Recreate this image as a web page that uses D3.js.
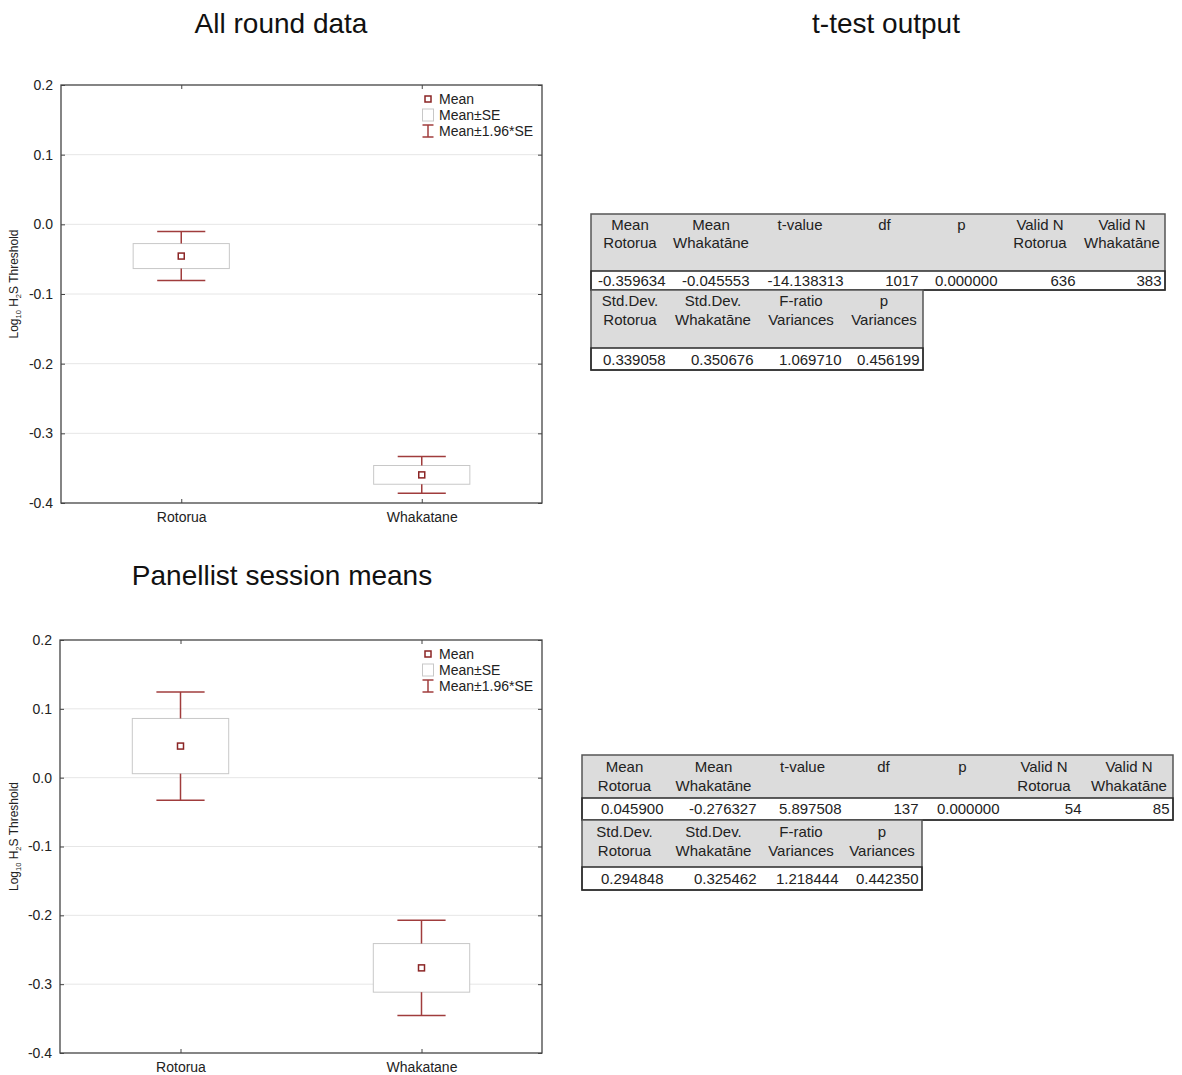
<!DOCTYPE html>
<html>
<head>
<meta charset="utf-8">
<script src="https://cdn.jsdelivr.net/npm/d3@7"></script>
<style>
  body { margin: 0; background: #fff; }
  svg { display: block; font-family: "Liberation Sans", Arial, Helvetica, sans-serif; }
</style>
</head>
<body>
<svg id="fig" width="1182" height="1075"></svg>
<script>
// ---- data ----
const categories = ["Rotorua", "Whakatane"];
const yTickValues = [0.2, 0.1, 0.0, -0.1, -0.2, -0.3, -0.4];
const allRoundMeans = [-0.045553, -0.359634];
const allRoundSE = [0.01792, 0.01344];
const sessionMeans = [0.045900, -0.276327];
const sessionSE = [0.04012, 0.03530];
const legendLabels = ["Mean", "Mean±SE", "Mean±1.96*SE"];

const ttestHeaders = [["Mean", "Rotorua"], ["Mean", "Whakatāne"], ["t-value", ""], ["df", ""], ["p", ""], ["Valid N", "Rotorua"], ["Valid N", "Whakatāne"]];
const ttestAllRow = ["-0.359634", "-0.045553", "-14.138313", "1017", "0.000000", "636", "383"];
const ttestSessionRow = ["0.045900", "-0.276327", "5.897508", "137", "0.000000", "54", "85"];
const varianceHeaders = [["Std.Dev.", "Rotorua"], ["Std.Dev.", "Whakatāne"], ["F-ratio", "Variances"], ["p", "Variances"]];
const varianceAllRow = ["0.339058", "0.350676", "1.069710", "0.456199"];
const varianceSessionRow = ["0.294848", "0.325462", "1.218444", "0.442350"];

// ---- styling ----
const ink = "#222";
const whiskerColor = "#a03c3c";
const meanColor = "#8b2525";
const boxColor = "#c8c8c8";
const gridColor = "#e6e6e6";
const frameColor = "#444";
const headerFill = "#dcdcdc";

const svg = d3.select("#fig");
const fmt = d => d3.format(".1f")(d).replace("\u2212", "-");

function titleText(x, y, s) {
  svg.append("text").attr("x", x).attr("y", y).attr("text-anchor", "middle")
    .attr("font-size", 28).attr("fill", "#111").text(s);
}

titleText(281, 33, "All round data");
titleText(886, 33, "t-test output");
titleText(282, 585, "Panellist session means");

// ---- mean / SE plot ----
function drawMeanPlot(frame, means, se) {
  const g = svg.append("g");
  const x = d3.scalePoint().domain(categories).range([frame.x0, frame.x1]).padding(0.5);
  const y = d3.scaleLinear().domain([-0.4, 0.2]).range([frame.y1, frame.y0]);
  const w = frame.x1 - frame.x0;
  const boxW = w * 0.2, capW = w * 0.1;

  // gridlines
  g.append("g").selectAll("line")
    .data(yTickValues.filter(v => v < 0.2 && v > -0.4))
    .join("line")
    .attr("x1", frame.x0).attr("x2", frame.x1)
    .attr("y1", d => y(d)).attr("y2", d => y(d))
    .attr("stroke", gridColor).attr("stroke-width", 1);

  const rows = categories.map((c, i) => ({ c, m: means[i], s: se[i] }));

  // Mean±SE boxes
  g.append("g").selectAll("rect").data(rows).join("rect")
    .attr("x", d => x(d.c) - boxW / 2).attr("width", boxW)
    .attr("y", d => y(d.m + d.s)).attr("height", d => y(d.m - d.s) - y(d.m + d.s))
    .attr("fill", "#fff").attr("stroke", boxColor).attr("stroke-width", 1);

  // Mean±1.96*SE whiskers
  const wg = g.append("g").attr("stroke", whiskerColor).attr("stroke-width", 1.5);
  rows.forEach(d => {
    const hi = d.m + 1.96 * d.s, lo = d.m - 1.96 * d.s;
    const cx = x(d.c);
    wg.append("line").attr("x1", cx).attr("x2", cx).attr("y1", y(hi)).attr("y2", y(d.m + d.s));
    wg.append("line").attr("x1", cx).attr("x2", cx).attr("y1", y(d.m - d.s)).attr("y2", y(lo));
    wg.append("line").attr("x1", cx - capW / 2).attr("x2", cx + capW / 2).attr("y1", y(hi)).attr("y2", y(hi));
    wg.append("line").attr("x1", cx - capW / 2).attr("x2", cx + capW / 2).attr("y1", y(lo)).attr("y2", y(lo));
  });

  // means
  g.append("g").selectAll("rect").data(rows).join("rect")
    .attr("x", d => x(d.c) - 3).attr("y", d => y(d.m) - 3)
    .attr("width", 6).attr("height", 6)
    .attr("fill", "#fff").attr("stroke", meanColor).attr("stroke-width", 1.5);

  // frame
  g.append("rect").attr("x", frame.x0).attr("y", frame.y0)
    .attr("width", w).attr("height", frame.y1 - frame.y0)
    .attr("fill", "none").attr("stroke", frameColor).attr("stroke-width", 1.3);

  // axes
  const styleAxis = sel => {
    sel.select(".domain").remove();
    sel.selectAll(".tick line").attr("stroke", frameColor);
    sel.selectAll("text").attr("fill", ink).attr("font-size", 14)
      .attr("font-family", "Liberation Sans, Arial, sans-serif");
  };
  g.append("g").attr("transform", `translate(${frame.x0},0)`)
    .call(d3.axisLeft(y).tickValues(yTickValues).tickFormat(fmt).tickSizeInner(-4).tickSizeOuter(0).tickPadding(8))
    .call(styleAxis);
  g.append("g").attr("transform", `translate(${frame.x1},0)`)
    .call(d3.axisRight(y).tickValues(yTickValues).tickFormat("").tickSizeInner(-4).tickSizeOuter(0))
    .call(styleAxis);
  g.append("g").attr("transform", `translate(0,${frame.y0})`)
    .call(d3.axisTop(x).tickFormat("").tickSizeInner(-4).tickSizeOuter(0))
    .call(styleAxis);
  g.append("g").attr("transform", `translate(0,${frame.y1})`)
    .call(d3.axisBottom(x).tickSizeInner(-4).tickSizeOuter(0).tickPadding(9))
    .call(styleAxis);

  // y-axis title with subscripts
  const cy = (frame.y0 + frame.y1) / 2 - 10;
  const t = g.append("text").attr("transform", `translate(18,${cy}) rotate(-90)`)
    .attr("text-anchor", "middle").attr("font-size", 12).attr("fill", ink);
  t.append("tspan").text("Log");
  t.append("tspan").attr("font-size", 7.5).attr("dy", 3).text("10");
  t.append("tspan").attr("dy", -3).text(" H");
  t.append("tspan").attr("font-size", 7.5).attr("dy", 3).text("2");
  t.append("tspan").attr("dy", -3).text("S Threshold");

  // legend
  const lx = frame.x1 - 114, tx = frame.x1 - 103;
  const ly = [frame.y0 + 14, frame.y0 + 30, frame.y0 + 46];
  const lg = g.append("g");
  lg.append("rect").attr("x", lx - 3).attr("y", ly[0] - 3).attr("width", 6).attr("height", 6)
    .attr("fill", "#fff").attr("stroke", meanColor).attr("stroke-width", 1.5);
  lg.append("rect").attr("x", lx - 5.5).attr("y", ly[1] - 6).attr("width", 11).attr("height", 12)
    .attr("fill", "#fff").attr("stroke", boxColor).attr("stroke-width", 1);
  const ib = lg.append("g").attr("stroke", whiskerColor).attr("stroke-width", 1.5);
  ib.append("line").attr("x1", lx).attr("x2", lx).attr("y1", ly[2] - 6).attr("y2", ly[2] + 6);
  ib.append("line").attr("x1", lx - 5.5).attr("x2", lx + 5.5).attr("y1", ly[2] - 6).attr("y2", ly[2] - 6);
  ib.append("line").attr("x1", lx - 5.5).attr("x2", lx + 5.5).attr("y1", ly[2] + 6).attr("y2", ly[2] + 6);
  lg.selectAll("text").data(legendLabels).join("text")
    .attr("x", tx).attr("y", (d, i) => ly[i]).attr("dy", "0.35em")
    .attr("font-size", 14).attr("fill", ink).text(d => d);
}

drawMeanPlot({ x0: 61, x1: 542, y0: 85, y1: 503 }, allRoundMeans, allRoundSE);
drawMeanPlot({ x0: 60, x1: 542, y0: 640, y1: 1053 }, sessionMeans, sessionSE);

// ---- statistics tables ----
function drawTableBlock(cols, head, data, headers, values) {
  const g = svg.append("g").attr("font-size", 15).attr("fill", ink);
  const x0 = cols[0], x1 = cols[cols.length - 1];
  g.append("rect").attr("x", x0).attr("y", head.top).attr("width", x1 - x0)
    .attr("height", head.bottom - head.top).attr("fill", headerFill);
  g.append("rect").attr("x", x0).attr("y", data.top).attr("width", x1 - x0)
    .attr("height", data.bottom - data.top).attr("fill", "#fff");
  headers.forEach((h, i) => {
    const cx = (cols[i] + cols[i + 1]) / 2;
    h.forEach((line, k) => {
      if (line) g.append("text").attr("x", cx).attr("y", head.lines[k])
        .attr("text-anchor", "middle").text(line);
    });
  });
  values.forEach((v, i) => {
    g.append("text").attr("x", cols[i + 1] - 3.5).attr("y", data.base)
      .attr("text-anchor", "end").text(v);
  });
  // borders
  const b = g.append("g").attr("stroke", "#2a2a2a").attr("stroke-width", 1.5).attr("fill", "none");
  b.append("rect").attr("x", x0).attr("y", head.top).attr("width", x1 - x0)
    .attr("height", data.bottom - head.top).attr("stroke", "#555");
  b.append("rect").attr("x", x0).attr("y", data.top).attr("width", x1 - x0)
    .attr("height", data.bottom - data.top);
}

// all round data tables
drawTableBlock([591, 669, 753, 847, 922, 1001, 1079, 1165],
  { top: 214, bottom: 271, lines: [230, 248] },
  { top: 271, bottom: 290, base: 286 },
  ttestHeaders, ttestAllRow);
drawTableBlock([591, 669, 757, 845, 923],
  { top: 290, bottom: 348, lines: [306, 325] },
  { top: 348, bottom: 370, base: 365 },
  varianceHeaders, varianceAllRow);

// panellist session means tables
drawTableBlock([582, 667, 760, 845, 922, 1003, 1085, 1173],
  { top: 755, bottom: 798, lines: [772, 791] },
  { top: 798, bottom: 820, base: 814 },
  ttestHeaders, ttestSessionRow);
drawTableBlock([582, 667, 760, 842, 922],
  { top: 820, bottom: 867, lines: [837, 856] },
  { top: 867, bottom: 890, base: 884 },
  varianceHeaders, varianceSessionRow);
</script>
</body>
</html>
